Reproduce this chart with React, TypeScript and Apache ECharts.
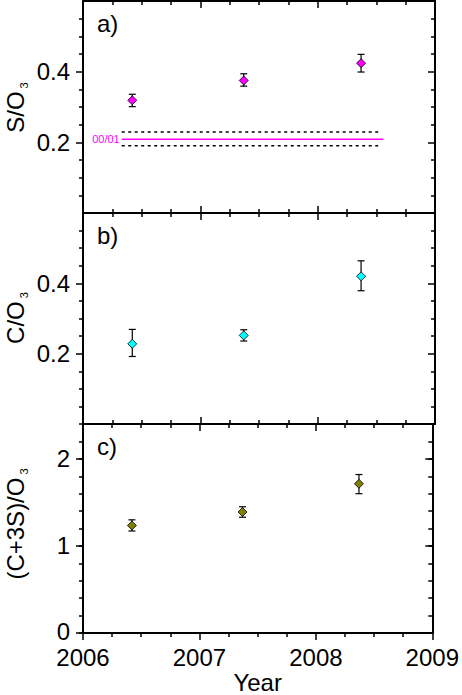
import React, { useEffect, useRef } from 'react';
import * as echarts from 'echarts';

// ---- data ----
const years = [2006.42, 2007.37, 2008.37];

const soValues = [0.319, 0.375, 0.424];
const soErrLow = [0.301, 0.359, 0.399];
const soErrHigh = [0.336, 0.394, 0.449];

const coValues = [0.228, 0.252, 0.42];
const coErrLow = [0.192, 0.236, 0.379];
const coErrHigh = [0.269, 0.268, 0.464];

const sumValues = [1.235, 1.39, 1.714];
const sumErrLow = [1.172, 1.33, 1.6];
const sumErrHigh = [1.3, 1.45, 1.82];

const refSolidRange = [2006.33, 2008.56];
const refDottedRange = [2006.33, 2008.53];
const refMean = 0.209;
const refUpper = 0.229;
const refLower = 0.1905;
const refLabel = '00/01';

const xTicks = [2006, 2007, 2008, 2009];
const yTicksAB = [0.2, 0.4];
const yTicksC = [0, 1, 2];
const panelLabels = ['a)', 'b)', 'c)'];
const yTitles = [
  ['S/O', '3'],
  ['C/O', '3'],
  ['(C+3S)/O', '3'],
];

const FONT = "'Liberation Sans', Arial, Helvetica, sans-serif";
const BLACK = '#000';
const gridTops = [1, 213, 424];
const gridHeights = [212, 211, 213];
const titleCenters = [107.5, 318, 524];

const axisLine = { show: true, onZero: false, lineStyle: { color: BLACK, width: 2 } };
const tickStyle = { color: BLACK, width: 1.5 };

function buildXAxes() {
  const axes: any[] = [];
  for (let i = 0; i < 3; i++) {
    const base = {
      type: 'value',
      gridIndex: i,
      min: xTicks[0],
      max: xTicks[xTicks.length - 1],
      interval: 1,
      splitLine: { show: false },
      axisLine,
      minorTick: { show: true, splitNumber: 4, length: 4, lineStyle: tickStyle },
    };
    const isLast = i === 2;
    axes.push({
      ...base,
      position: 'bottom',
      axisTick: { show: true, inside: !isLast, length: 7, lineStyle: tickStyle },
      axisLabel: isLast
        ? {
            show: true,
            margin: 14,
            fontSize: 24,
            lineHeight: 20,
            fontFamily: FONT,
            color: BLACK,
            formatter: (v: number) => String(Math.round(v)),
          }
        : { show: false },
      name: isLast ? 'Year' : '',
      nameLocation: 'middle',
      nameGap: 38,
      nameTextStyle: { fontSize: 24, lineHeight: 20, fontFamily: FONT, color: BLACK },
    });
    axes.push({
      ...base,
      position: 'top',
      axisTick: { show: true, inside: true, length: 7, lineStyle: tickStyle },
      axisLabel: { show: false },
    });
  }
  return axes;
}

function buildYAxes() {
  const axes: any[] = [];
  for (let i = 0; i < 2; i++) {
    const base = {
      type: 'value',
      gridIndex: i,
      min: 0,
      max: 0.6,
      interval: 0.2,
      splitLine: { show: false },
      axisLine,
      minorTick: { show: true, splitNumber: 4, length: 4, lineStyle: tickStyle },
    };
    axes.push({
      ...base,
      position: 'left',
      axisTick: { show: true, inside: false, length: 7, lineStyle: tickStyle, customValues: yTicksAB },
      axisLabel: {
        show: true,
        customValues: yTicksAB,
        margin: 13,
        fontSize: 24,
        lineHeight: 20,
        fontFamily: FONT,
        color: BLACK,
        formatter: (v: number) => v.toFixed(1),
      },
    });
    axes.push({
      ...base,
      position: 'right',
      axisTick: { show: true, inside: true, length: 7, lineStyle: tickStyle, customValues: yTicksAB },
      axisLabel: { show: false },
    });
  }
  const baseC = {
    type: 'value',
    gridIndex: 2,
    min: 0,
    max: 2.4,
    interval: 0.2,
    splitLine: { show: false },
    minorTick: { show: false },
  };
  // major (index 4 left, 5 right)
  axes.push({
    ...baseC,
    position: 'left',
    axisLine,
    axisTick: { show: true, inside: false, length: 7, lineStyle: tickStyle, customValues: yTicksC },
    axisLabel: {
      show: true,
      customValues: yTicksC,
      margin: 13,
      fontSize: 24,
      lineHeight: 20,
      fontFamily: FONT,
      color: BLACK,
      formatter: (v: number) => (Math.round(v) === 0 ? '{z|0}' : String(Math.round(v))),
      rich: {
        z: { fontSize: 24, lineHeight: 20, fontFamily: FONT, color: BLACK, padding: [0, 0, 4, 0] },
      },
    },
  });
  axes.push({
    ...baseC,
    position: 'right',
    axisLine,
    axisTick: { show: true, inside: true, length: 7, lineStyle: tickStyle, customValues: yTicksC },
    axisLabel: { show: false },
  });
  // minor overlays (index 6 left, 7 right)
  axes.push({
    ...baseC,
    position: 'left',
    axisLine: { show: false },
    axisTick: { show: true, inside: false, length: 4, lineStyle: tickStyle },
    axisLabel: { show: false },
  });
  axes.push({
    ...baseC,
    position: 'right',
    axisLine: { show: false },
    axisTick: { show: true, inside: true, length: 4, lineStyle: tickStyle },
    axisLabel: { show: false },
  });
  return axes;
}

const errorBarItem = (params: any, api: any) => {
  const x = api.value(0);
  const top = api.coord([x, api.value(2)]);
  const bot = api.coord([x, api.value(1)]);
  const cap = 3.5;
  const style = { stroke: BLACK, lineWidth: 1.2 };
  return {
    type: 'group',
    children: [
      { type: 'line', shape: { x1: top[0], y1: top[1], x2: bot[0], y2: bot[1] }, style },
      { type: 'line', shape: { x1: top[0] - cap, y1: top[1], x2: top[0] + cap, y2: top[1] }, style },
      { type: 'line', shape: { x1: bot[0] - cap, y1: bot[1], x2: bot[0] + cap, y2: bot[1] }, style },
    ],
  };
};

function panelSeries(xIdx: number, yIdx: number, vals: number[], lo: number[], hi: number[], color: string) {
  return [
    {
      type: 'custom',
      xAxisIndex: xIdx,
      yAxisIndex: yIdx,
      renderItem: errorBarItem,
      data: years.map((x, i) => [x, lo[i], hi[i]]),
      encode: { x: 0, y: [1, 2] },
      z: 2,
    },
    {
      type: 'scatter',
      xAxisIndex: xIdx,
      yAxisIndex: yIdx,
      symbol: 'diamond',
      symbolSize: 9,
      itemStyle: { color, borderColor: BLACK, borderWidth: 0.8, opacity: 1 },
      data: years.map((x, i) => [x, vals[i]]),
      z: 3,
    },
  ];
}

export default function App() {
  const ref = useRef<HTMLDivElement>(null);
  useEffect(() => {
    document.body.style.margin = '0';
    if (!ref.current) return;
    const chart = echarts.init(ref.current, null, { renderer: 'svg' });

    const graphic: any[] = [];
    panelLabels.forEach((t, i) => {
      graphic.push({
        type: 'text',
        x: 97,
        y: gridTops[i] + 22.5,
        style: { text: t, font: `24px ${FONT}`, fill: BLACK, align: 'left', verticalAlign: 'middle' },
      });
    });
    yTitles.forEach(([main, sub], i) => {
      graphic.push({
        type: 'text',
        x: 15.7,
        y: titleCenters[i],
        rotation: Math.PI / 2,
        style: {
          text: `{m|${main}}{s|${sub}}`,
          align: 'center',
          verticalAlign: 'middle',
          fill: BLACK,
          rich: {
            m: { fontSize: 24, fontFamily: FONT, fill: BLACK, verticalAlign: 'middle' },
            s: { fontSize: 11, fontFamily: FONT, fill: BLACK, verticalAlign: 'top', padding: [17, 0, 0, 3] },
          },
        },
      });
    });

    const option: any = {
      animation: false,
      backgroundColor: '#fff',
      grid: gridTops.map((top, i) => ({ left: 83, right: 27, top, height: gridHeights[i], containLabel: false })),
      xAxis: buildXAxes(),
      yAxis: buildYAxes(),
      graphic,
      series: [
        {
          type: 'line',
          xAxisIndex: 0,
          yAxisIndex: 0,
          data: [
            {
              value: [refSolidRange[0], refMean],
              label: {
                show: true,
                position: 'left',
                distance: 2,
                formatter: refLabel,
                color: '#ff00ff',
                fontSize: 11,
                fontFamily: FONT,
              },
            },
            [refSolidRange[1], refMean],
          ],
          showSymbol: true,
          symbol: 'circle',
          symbolSize: 0,
          lineStyle: { color: '#ff00ff', width: 1.5 },
          itemStyle: { color: '#ff00ff' },
          z: 1,
        },
        ...[refUpper, refLower].map((v) => ({
          type: 'line',
          xAxisIndex: 0,
          yAxisIndex: 0,
          data: [
            [refDottedRange[0], v],
            [refDottedRange[1], v],
          ],
          showSymbol: false,
          symbol: 'none',
          lineStyle: { color: BLACK, width: 1.5, type: [3, 3.5] },
          z: 1,
        })),
        ...panelSeries(0, 0, soValues, soErrLow, soErrHigh, '#ff00ff'),
        ...panelSeries(2, 2, coValues, coErrLow, coErrHigh, '#00ffff'),
        ...panelSeries(4, 4, sumValues, sumErrLow, sumErrHigh, '#808000'),
      ],
    };
    chart.setOption(option);
    return () => chart.dispose();
  }, []);
  return <div ref={ref} style={{ width: 462, height: 695 }} />;
}
